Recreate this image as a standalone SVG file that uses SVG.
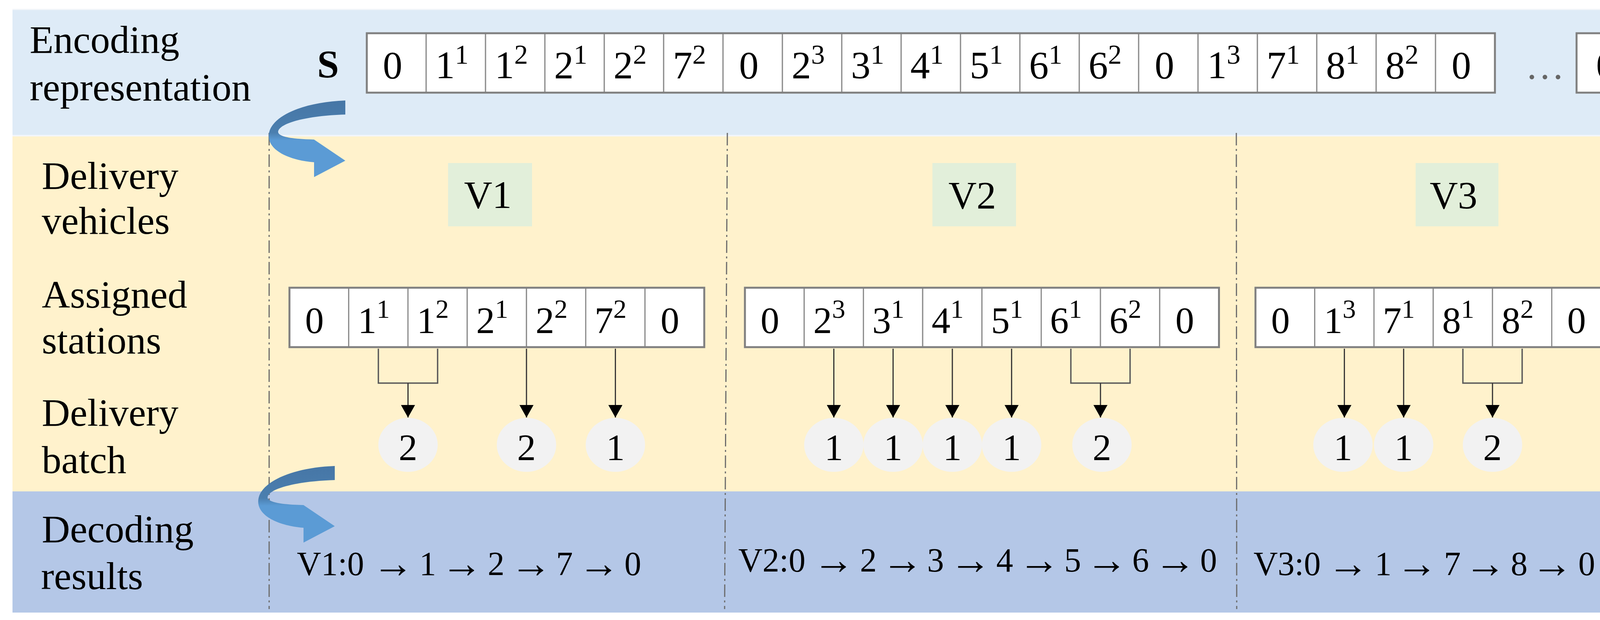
<svg xmlns="http://www.w3.org/2000/svg" width="4257" height="1586" viewBox="0 0 4257 1586">
<style>
text{font-family:"Liberation Serif","Times New Roman","DejaVu Serif",serif;fill:#000}
.lbl{font-size:100px}
.cell{fill:#fff;stroke:#8c8c8c;stroke-width:3}
.outer{fill:none;stroke:#808080;stroke-width:5}
.d{font-size:100px;text-anchor:middle}
.a{font-size:96px;text-anchor:middle}
.vbox{fill:#E2EFDA}
.vt{font-size:100px;text-anchor:middle}
.ell{fill:#F2F2F2}
.bt{font-size:96px;text-anchor:middle}
.sep{stroke:#6b6b6b;stroke-width:3;fill:none;stroke-dasharray:32 9 5 9}
.ln{stroke:#333;stroke-width:3;fill:none}
.br{stroke:#5a5a5a;stroke-width:3.5;fill:none}
.r{font-size:86px}
.rm{font-size:86px;text-anchor:middle}
.ar{font-size:106px;text-anchor:middle}
</style>
<defs>
<marker id="ah" markerUnits="userSpaceOnUse" markerWidth="32" markerHeight="36" viewBox="0 0 32 36" refX="32" refY="18" orient="auto">
<path d="M0,0 L32,18 L0,36 Z" fill="#000"/>
</marker>
<linearGradient id="cg" x1="0" y1="0" x2="0" y2="1">
<stop offset="0" stop-color="#4676A6"/>
<stop offset="0.42" stop-color="#4B7FAF"/>
<stop offset="0.52" stop-color="#5B9BD5"/>
<stop offset="1" stop-color="#5B9BD5"/>
</linearGradient>
<path id="curve" d="M884 257 C772 261 688 300 688 348 C688 385 740 410 804 415 L804 453 L884 411 L804 357 C760 356 714 352 712 338 C712 316 782 296 884 293 Z" fill="url(#cg)"/>
</defs>

<g id="bands">
<rect x="32" y="23" width="4207" height="324" fill="#DEEBF7"/>
<rect x="32" y="347" width="4207" height="910" fill="#FFF2CC"/>
<rect x="32" y="1257" width="4207" height="310" fill="#B4C7E7"/>
<line x1="32" y1="24" x2="4239" y2="24" stroke="#F3F6FA" stroke-width="3"/>
<line x1="32" y1="347" x2="4239" y2="347" stroke="#F3F6FA" stroke-width="4"/>
</g>

<g id="row-labels">
<text class="lbl" x="76" y="135">Encoding</text>
<text class="lbl" x="76" y="257">representation</text>
<text class="lbl" x="107" y="483">Delivery</text>
<text class="lbl" x="107" y="598">vehicles</text>
<text class="lbl" x="107" y="787">Assigned</text>
<text class="lbl" x="107" y="904">stations</text>
<text class="lbl" x="107" y="1089">Delivery</text>
<text class="lbl" x="107" y="1210">batch</text>
<text class="lbl" x="107" y="1387">Decoding</text>
<text class="lbl" x="105" y="1507">results</text>
</g>

<g id="separators">
<line class="sep" x1="689" y1="340" x2="689" y2="1558"/>
<line class="sep" x1="1862" y1="340" x2="1855" y2="1558"/>
<line class="sep" x1="3165" y1="340" x2="3166" y2="1558"/>
<line class="sep" x1="4171" y1="340" x2="4186" y2="1558"/>
</g>

<g id="encoding-S">
<text x="812" y="197" font-size="100" font-weight="bold">S</text>
<rect class="cell" x="939" y="85" width="152" height="152"/>
<rect class="cell" x="1091" y="85" width="152" height="152"/>
<rect class="cell" x="1243" y="85" width="152" height="152"/>
<rect class="cell" x="1395" y="85" width="152" height="152"/>
<rect class="cell" x="1547" y="85" width="152" height="152"/>
<rect class="cell" x="1699" y="85" width="152" height="152"/>
<rect class="cell" x="1851" y="85" width="152" height="152"/>
<rect class="cell" x="2003" y="85" width="152" height="152"/>
<rect class="cell" x="2155" y="85" width="152" height="152"/>
<rect class="cell" x="2307" y="85" width="152" height="152"/>
<rect class="cell" x="2459" y="85" width="152" height="152"/>
<rect class="cell" x="2611" y="85" width="152" height="152"/>
<rect class="cell" x="2763" y="85" width="152" height="152"/>
<rect class="cell" x="2915" y="85" width="152" height="152"/>
<rect class="cell" x="3067" y="85" width="152" height="152"/>
<rect class="cell" x="3219" y="85" width="152" height="152"/>
<rect class="cell" x="3371" y="85" width="152" height="152"/>
<rect class="cell" x="3523" y="85" width="152" height="152"/>
<rect class="cell" x="3675" y="85" width="152" height="152"/>
<rect class="outer" x="939" y="85" width="2888" height="152"/>
<rect class="cell" x="4036" y="85" width="153" height="152"/>
<rect class="outer" x="4036" y="85" width="153" height="152"/>
<text class="d" x="1005" y="200">0</text>
<text class="d" x="1157" y="200">1<tspan font-size="70" dy="-37">1</tspan></text>
<text class="d" x="1309" y="200">1<tspan font-size="70" dy="-37">2</tspan></text>
<text class="d" x="1461" y="200">2<tspan font-size="70" dy="-37">1</tspan></text>
<text class="d" x="1613" y="200">2<tspan font-size="70" dy="-37">2</tspan></text>
<text class="d" x="1765" y="200">7<tspan font-size="70" dy="-37">2</tspan></text>
<text class="d" x="1917" y="200">0</text>
<text class="d" x="2069" y="200">2<tspan font-size="70" dy="-37">3</tspan></text>
<text class="d" x="2221" y="200">3<tspan font-size="70" dy="-37">1</tspan></text>
<text class="d" x="2373" y="200">4<tspan font-size="70" dy="-37">1</tspan></text>
<text class="d" x="2525" y="200">5<tspan font-size="70" dy="-37">1</tspan></text>
<text class="d" x="2677" y="200">6<tspan font-size="70" dy="-37">1</tspan></text>
<text class="d" x="2829" y="200">6<tspan font-size="70" dy="-37">2</tspan></text>
<text class="d" x="2981" y="200">0</text>
<text class="d" x="3133" y="200">1<tspan font-size="70" dy="-37">3</tspan></text>
<text class="d" x="3285" y="200">7<tspan font-size="70" dy="-37">1</tspan></text>
<text class="d" x="3437" y="200">8<tspan font-size="70" dy="-37">1</tspan></text>
<text class="d" x="3589" y="200">8<tspan font-size="70" dy="-37">2</tspan></text>
<text class="d" x="3741" y="200">0</text>
<text x="3905" y="202" font-size="100" style="fill:#666">…</text>
<text class="d" x="4111" y="200">0</text>
</g>

<g id="curved-arrows">
<use href="#curve"/>
<use href="#curve" transform="translate(-27 935)"/>
</g>

<g id="vehicle-V1">
<rect class="vbox" x="1147" y="417" width="215" height="162"/>
<text class="vt" x="1249" y="532">V1</text>
</g>
<g id="vehicle-V2">
<rect class="vbox" x="2387" y="417" width="214" height="162"/>
<text class="vt" x="2489" y="533">V2</text>
</g>
<g id="vehicle-V3">
<rect class="vbox" x="3624" y="417" width="212" height="162"/>
<text class="vt" x="3721" y="533">V3</text>
</g>

<g id="stations-V1">
<rect class="cell" x="741" y="736" width="151.7" height="152"/>
<rect class="cell" x="892.7" y="736" width="151.7" height="152"/>
<rect class="cell" x="1044.4" y="736" width="151.7" height="152"/>
<rect class="cell" x="1196.1" y="736" width="151.7" height="152"/>
<rect class="cell" x="1347.8" y="736" width="151.7" height="152"/>
<rect class="cell" x="1499.5" y="736" width="151.7" height="152"/>
<rect class="cell" x="1651.2" y="736" width="151.7" height="152"/>
<rect class="outer" x="741" y="736" width="1061.9" height="152"/>
<text class="a" x="805" y="852">0</text>
<text class="a" x="957" y="852">1<tspan font-size="68" dy="-39">1</tspan></text>
<text class="a" x="1108" y="852">1<tspan font-size="68" dy="-39">2</tspan></text>
<text class="a" x="1260" y="852">2<tspan font-size="68" dy="-39">1</tspan></text>
<text class="a" x="1412" y="852">2<tspan font-size="68" dy="-39">2</tspan></text>
<text class="a" x="1563" y="852">7<tspan font-size="68" dy="-39">2</tspan></text>
<text class="a" x="1715" y="852">0</text>
</g>

<g id="stations-V2">
<rect class="cell" x="1907" y="736" width="151.7" height="152"/>
<rect class="cell" x="2058.7" y="736" width="151.7" height="152"/>
<rect class="cell" x="2210.4" y="736" width="151.7" height="152"/>
<rect class="cell" x="2362.1" y="736" width="151.7" height="152"/>
<rect class="cell" x="2513.8" y="736" width="151.7" height="152"/>
<rect class="cell" x="2665.5" y="736" width="151.7" height="152"/>
<rect class="cell" x="2817.2" y="736" width="151.7" height="152"/>
<rect class="cell" x="2968.9" y="736" width="151.7" height="152"/>
<rect class="outer" x="1907" y="736" width="1213.6" height="152"/>
<text class="a" x="1971" y="852">0</text>
<text class="a" x="2123" y="852">2<tspan font-size="68" dy="-39">3</tspan></text>
<text class="a" x="2274" y="852">3<tspan font-size="68" dy="-39">1</tspan></text>
<text class="a" x="2426" y="852">4<tspan font-size="68" dy="-39">1</tspan></text>
<text class="a" x="2578" y="852">5<tspan font-size="68" dy="-39">1</tspan></text>
<text class="a" x="2729" y="852">6<tspan font-size="68" dy="-39">1</tspan></text>
<text class="a" x="2881" y="852">6<tspan font-size="68" dy="-39">2</tspan></text>
<text class="a" x="3033" y="852">0</text>
</g>

<g id="stations-V3">
<rect class="cell" x="3214" y="736" width="151.7" height="152"/>
<rect class="cell" x="3365.7" y="736" width="151.7" height="152"/>
<rect class="cell" x="3517.4" y="736" width="151.7" height="152"/>
<rect class="cell" x="3669.1" y="736" width="151.7" height="152"/>
<rect class="cell" x="3820.8" y="736" width="151.7" height="152"/>
<rect class="cell" x="3972.5" y="736" width="151.7" height="152"/>
<rect class="outer" x="3214" y="736" width="910.2" height="152"/>
<text class="a" x="3278" y="852">0</text>
<text class="a" x="3430" y="852">1<tspan font-size="68" dy="-39">3</tspan></text>
<text class="a" x="3581" y="852">7<tspan font-size="68" dy="-39">1</tspan></text>
<text class="a" x="3733" y="852">8<tspan font-size="68" dy="-39">1</tspan></text>
<text class="a" x="3885" y="852">8<tspan font-size="68" dy="-39">2</tspan></text>
<text class="a" x="4036" y="852">0</text>
</g>

<g id="connectors">
<path class="br" d="M968.6 892 V980 H1120.3 V892"/>
<line class="ln" x1="1044.5" y1="980" x2="1044.5" y2="1068" marker-end="url(#ah)"/>
<line class="ln" x1="1347.8" y1="892" x2="1347.8" y2="1068" marker-end="url(#ah)"/>
<line class="ln" x1="1575.4" y1="892" x2="1575.4" y2="1068" marker-end="url(#ah)"/>
<line class="ln" x1="2134.6" y1="892" x2="2134.6" y2="1068" marker-end="url(#ah)"/>
<line class="ln" x1="2286.3" y1="892" x2="2286.3" y2="1068" marker-end="url(#ah)"/>
<line class="ln" x1="2438" y1="892" x2="2438" y2="1068" marker-end="url(#ah)"/>
<line class="ln" x1="2589.7" y1="892" x2="2589.7" y2="1068" marker-end="url(#ah)"/>
<path class="br" d="M2741.4 892 V980 H2893 V892"/>
<line class="ln" x1="2817.2" y1="980" x2="2817.2" y2="1068" marker-end="url(#ah)"/>
<line class="ln" x1="3441.6" y1="892" x2="3441.6" y2="1068" marker-end="url(#ah)"/>
<line class="ln" x1="3593.3" y1="892" x2="3593.3" y2="1068" marker-end="url(#ah)"/>
<path class="br" d="M3745 892 V980 H3896.7 V892"/>
<line class="ln" x1="3820.8" y1="980" x2="3820.8" y2="1068" marker-end="url(#ah)"/>
</g>

<g id="batch-V1">
<ellipse class="ell" cx="1044.5" cy="1138" rx="76" ry="69"/>
<text class="bt" x="1044.5" y="1177">2</text>
<ellipse class="ell" cx="1347.8" cy="1138" rx="76" ry="69"/>
<text class="bt" x="1347.8" y="1177">2</text>
<ellipse class="ell" cx="1575.4" cy="1138" rx="76" ry="69"/>
<text class="bt" x="1575.4" y="1177">1</text>
</g>
<g id="batch-V2">
<ellipse class="ell" cx="2134.6" cy="1138" rx="76" ry="69"/>
<text class="bt" x="2134.6" y="1177">1</text>
<ellipse class="ell" cx="2286.3" cy="1138" rx="76" ry="69"/>
<text class="bt" x="2286.3" y="1177">1</text>
<ellipse class="ell" cx="2438" cy="1138" rx="76" ry="69"/>
<text class="bt" x="2438" y="1177">1</text>
<ellipse class="ell" cx="2589.7" cy="1138" rx="76" ry="69"/>
<text class="bt" x="2589.7" y="1177">1</text>
<ellipse class="ell" cx="2821" cy="1138" rx="76" ry="69"/>
<text class="bt" x="2821" y="1177">2</text>
</g>
<g id="batch-V3">
<ellipse class="ell" cx="3438" cy="1138" rx="76" ry="69"/>
<text class="bt" x="3438" y="1177">1</text>
<ellipse class="ell" cx="3593.3" cy="1138" rx="76" ry="69"/>
<text class="bt" x="3593.3" y="1177">1</text>
<ellipse class="ell" cx="3820.8" cy="1138" rx="76" ry="69"/>
<text class="bt" x="3820.8" y="1177">2</text>
</g>

<g id="result-V1">
<text class="r" x="760" y="1471">V1:0</text>
<text class="ar" x="1006" y="1477">→</text>
<text class="rm" x="1095" y="1471">1</text>
<text class="ar" x="1182" y="1477">→</text>
<text class="rm" x="1270" y="1471">2</text>
<text class="ar" x="1359" y="1477">→</text>
<text class="rm" x="1445" y="1471">7</text>
<text class="ar" x="1533" y="1477">→</text>
<text class="rm" x="1620" y="1471">0</text>
</g>
<g id="result-V2">
<text class="r" x="1890" y="1462">V2:0</text>
<text class="ar" x="2134" y="1468">→</text>
<text class="rm" x="2223" y="1462">2</text>
<text class="ar" x="2310" y="1468">→</text>
<text class="rm" x="2395" y="1462">3</text>
<text class="ar" x="2484" y="1468">→</text>
<text class="rm" x="2572" y="1462">4</text>
<text class="ar" x="2660" y="1468">→</text>
<text class="rm" x="2746" y="1462">5</text>
<text class="ar" x="2833" y="1468">→</text>
<text class="rm" x="2920" y="1462">6</text>
<text class="ar" x="3008" y="1468">→</text>
<text class="rm" x="3094" y="1462">0</text>
</g>
<g id="result-V3">
<text class="r" x="3209" y="1471">V3:0</text>
<text class="ar" x="3451" y="1477">→</text>
<text class="rm" x="3541" y="1471">1</text>
<text class="ar" x="3627" y="1477">→</text>
<text class="rm" x="3718" y="1471">7</text>
<text class="ar" x="3802" y="1477">→</text>
<text class="rm" x="3889" y="1471">8</text>
<text class="ar" x="3973" y="1477">→</text>
<text class="rm" x="4062" y="1471">0</text>
</g>
</svg>
